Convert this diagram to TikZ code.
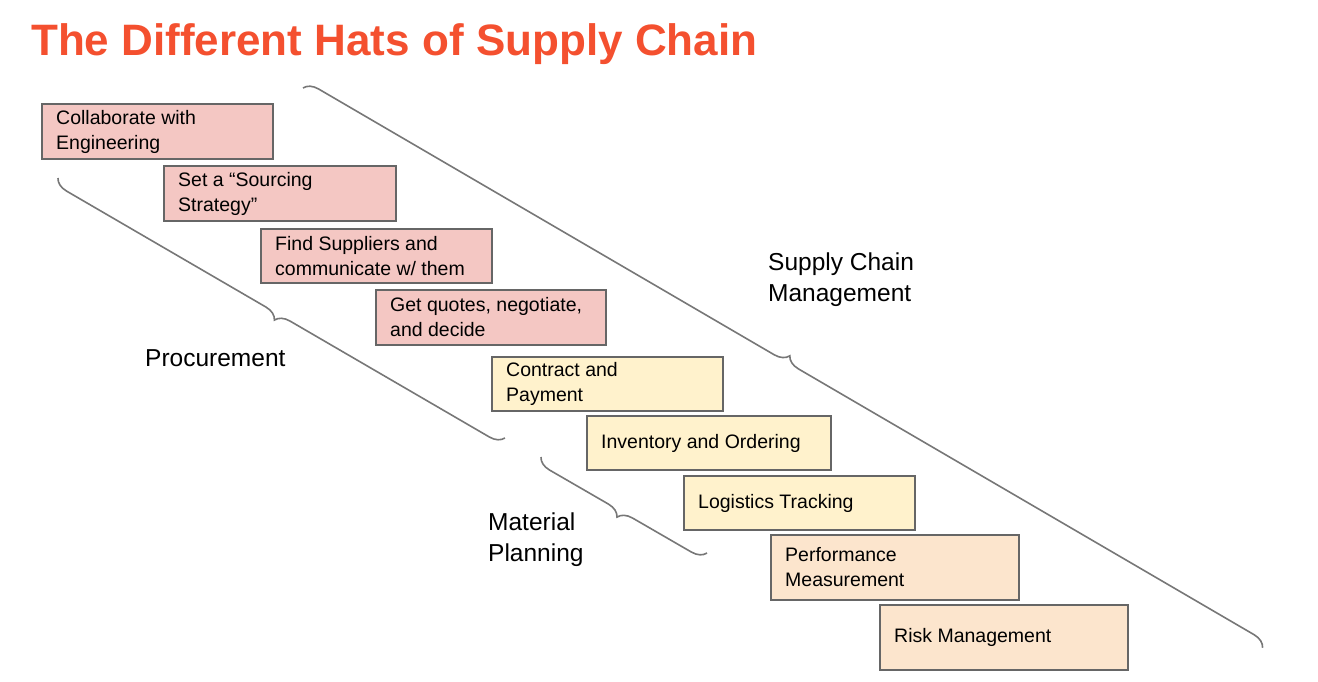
\documentclass[tikz,border=0pt]{standalone}
\usepackage{fontspec}
\setmainfont{Liberation Sans}
\usetikzlibrary{decorations.pathreplacing}
\definecolor{ttl}{HTML}{F4502F}
\definecolor{pk}{HTML}{F4C7C3}
\definecolor{yl}{HTML}{FFF2CC}
\definecolor{pc}{HTML}{FCE5CD}
\definecolor{bd}{HTML}{666666}
\definecolor{br}{HTML}{777777}
\begin{document}
\begin{tikzpicture}[x=1pt,y=-1pt,
  hatbox/.style={draw=bd,line width=1.2pt},
  htxt/.style={anchor=west,align=left,inner sep=0pt,font=\fontsize{19.5}{25}\selectfont},
  brc/.style={draw=br,line width=1.6pt,decorate,decoration={brace,amplitude=14pt,#1}},
  lbl/.style={anchor=west,align=left,inner sep=0pt,font=\fontsize{24.5}{31}\selectfont}]
\useasboundingbox (0,0) rectangle (1318,681);
\node[anchor=west,text=ttl,font=\fontsize{44}{50}\selectfont\bfseries,inner sep=0pt] (title) at (31,44) {The Different Hats of Supply Chain};
\newcommand{\hatbx}[7]{%
  \draw[hatbox,fill=#5] (#1,#2) rectangle (#3,#4);
  \node[htxt] (#6) at (#1+14,{(#2+#4)/2}) {#7};}
\hatbx{42}{104}{273}{159}{pk}{h1}{Collaborate with\\Engineering}
\hatbx{164}{166}{396}{221}{pk}{h2}{Set a “Sourcing\\Strategy”}
\hatbx{261}{229}{492}{283}{pk}{h3}{Find Suppliers and\\communicate w/ them}
\hatbx{376}{290}{606}{345}{pk}{h4}{Get quotes, negotiate,\\and decide}
\hatbx{492}{357}{723}{411}{yl}{h5}{Contract and\\Payment}
\hatbx{587}{416}{831}{470}{yl}{h6}{Inventory and Ordering}
\hatbx{684}{476}{915}{530}{yl}{h7}{Logistics Tracking}
\hatbx{771}{535}{1019}{600}{pc}{h8}{Performance\\Measurement}
\hatbx{880}{605}{1128}{670}{pc}{h9}{Risk Management}
\coordinate (p1) at (58,178); \coordinate (p2) at (505,438);
\coordinate (s1) at (303,88); \coordinate (s2) at (1263,648);
\coordinate (m1) at (541,457); \coordinate (m2) at (707,553);
\draw[brc=mirror] (p1) -- (p2);
\draw[brc={}] (s1) -- (s2);
\draw[brc=mirror] (m1) -- (m2);
\node[lbl] (lp) at (145,358) {Procurement};
\node[lbl] (ls) at (768,280) {Supply Chain\\Management};
\node[lbl] (lm) at (488,540) {Material\\Planning};
\end{tikzpicture}
\end{document}
